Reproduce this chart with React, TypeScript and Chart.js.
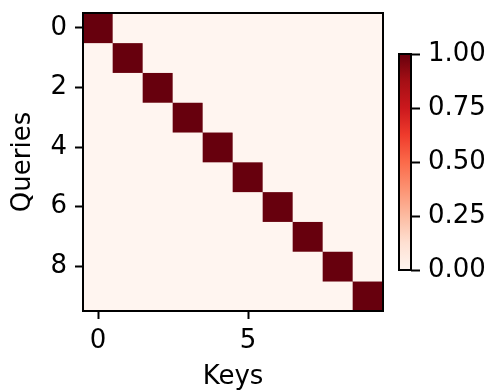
import React, { useEffect, useRef } from 'react';
import { Chart, registerables } from 'chart.js';

Chart.register(...registerables);

// ---- data ----
const keyIndices = [0, 1, 2, 3, 4, 5, 6, 7, 8, 9];
const queryIndices = [0, 1, 2, 3, 4, 5, 6, 7, 8, 9];
const row0 = [1, 0, 0, 0, 0, 0, 0, 0, 0, 0];
const row1 = [0, 1, 0, 0, 0, 0, 0, 0, 0, 0];
const row2 = [0, 0, 1, 0, 0, 0, 0, 0, 0, 0];
const row3 = [0, 0, 0, 1, 0, 0, 0, 0, 0, 0];
const row4 = [0, 0, 0, 0, 1, 0, 0, 0, 0, 0];
const row5 = [0, 0, 0, 0, 0, 1, 0, 0, 0, 0];
const row6 = [0, 0, 0, 0, 0, 0, 1, 0, 0, 0];
const row7 = [0, 0, 0, 0, 0, 0, 0, 1, 0, 0];
const row8 = [0, 0, 0, 0, 0, 0, 0, 0, 1, 0];
const row9 = [0, 0, 0, 0, 0, 0, 0, 0, 0, 1];
const attentionWeights = [row0, row1, row2, row3, row4, row5, row6, row7, row8, row9];
const xTickValues = [0, 5];
const yTickValues = [0, 2, 4, 6, 8];
const colorbarTickValues = [0, 0.25, 0.5, 0.75, 1];
const colorbarMin = 0;
const colorbarMax = 1;
const xTitle = 'Keys';
const yTitle = 'Queries';

// ---- style ----
const REDS = ['#fff5f0', '#fee0d2', '#fcbba1', '#fc9272', '#fb6a4a', '#ef3b2c', '#cb181d', '#a50f15', '#67000d'];
const FONT = { family: "'DejaVu Sans', sans-serif", size: 26 };
const TITLE_FONT = { family: "'DejaVu Sans', sans-serif", size: 26, lineHeight: 1 };

function hexToRgb(h: string): number[] {
  const v = parseInt(h.slice(1), 16);
  return [(v >> 16) & 255, (v >> 8) & 255, v & 255];
}

function reds(value: number): string {
  const t = Math.max(0, Math.min(1, (value - colorbarMin) / (colorbarMax - colorbarMin)));
  const pos = t * (REDS.length - 1);
  const i = Math.min(Math.floor(pos), REDS.length - 2);
  const f = pos - i;
  const a = hexToRgb(REDS[i]);
  const b = hexToRgb(REDS[i + 1]);
  const c = a.map((av, k) => Math.round(av + (b[k] - av) * f));
  return `rgb(${c[0]},${c[1]},${c[2]})`;
}

const outlinePlugin = {
  id: 'outline',
  afterDatasetsDraw(chart: any) {
    const { ctx, chartArea: a } = chart;
    ctx.save();
    ctx.strokeStyle = '#000';
    ctx.lineWidth = 2;
    ctx.strokeRect(a.left, a.top, a.right - a.left, a.bottom - a.top);
    ctx.restore();
  },
};

function zeroPad(s: any) {
  s.paddingTop = 0;
  s.paddingBottom = 0;
  s.paddingLeft = 0;
  s.paddingRight = 0;
}

export default function App() {
  const mainRef = useRef<HTMLCanvasElement>(null);
  const cbarRef = useRef<HTMLCanvasElement>(null);

  useEffect(() => {
    const datasets = queryIndices.map((q) => ({
      label: `Query ${q}`,
      data: keyIndices.map((k) => ({ x: k, y: [q - 0.5, q + 0.5] })),
      backgroundColor: keyIndices.map((k) => reds(attentionWeights[q][k])),
      borderWidth: 0,
      grouped: false,
      barPercentage: 1,
      categoryPercentage: 1,
    }));

    const main = new Chart(mainRef.current as HTMLCanvasElement, {
      type: 'bar',
      data: { datasets: datasets as any },
      plugins: [outlinePlugin],
      options: {
        animation: false,
        responsive: false,
        events: [],
        layout: { padding: { left: 0, top: 13, right: 12, bottom: 0 } },
        plugins: { legend: { display: false }, tooltip: { enabled: false } },
        scales: {
          x: {
            type: 'linear',
            min: -0.5,
            max: 9.5,
            offset: false,
            afterBuildTicks: (s: any) => {
              s.ticks = xTickValues.map((v) => ({ value: v }));
            },
            afterFit: (s: any) => {
              s.height = 79;
              zeroPad(s);
            },
            ticks: {
              font: FONT,
              color: '#000',
              padding: 7,
              autoSkip: false,
              maxRotation: 0,
              callback: (v: any) => String(v),
            },
            grid: { offset: false, drawOnChartArea: false, drawTicks: true, tickLength: 8, tickWidth: 2, tickColor: '#000' },
            border: { display: false },
            title: { display: true, text: xTitle, font: TITLE_FONT, color: '#000', padding: { top: 0, bottom: 0 } },
          },
          y: {
            type: 'linear',
            min: -0.5,
            max: 9.5,
            reverse: true,
            afterBuildTicks: (s: any) => {
              s.ticks = yTickValues.map((v) => ({ value: v }));
            },
            afterFit: (s: any) => {
              s.width = 83;
              zeroPad(s);
            },
            ticks: {
              font: FONT,
              color: '#000',
              padding: 8,
              autoSkip: false,
              callback: (v: any) => String(v),
            },
            grid: { drawOnChartArea: false, drawTicks: true, tickLength: 8, tickWidth: 2, tickColor: '#000' },
            border: { display: false },
            title: { display: true, text: yTitle, font: TITLE_FONT, color: '#000', padding: { top: 10, bottom: 0 } },
          },
        },
      } as any,
    });

    const cbar = new Chart(cbarRef.current as HTMLCanvasElement, {
      type: 'bar',
      data: {
        labels: [''],
        datasets: [
          {
            data: [[colorbarMin, colorbarMax]] as any,
            borderWidth: 0,
            barPercentage: 1,
            categoryPercentage: 1,
            backgroundColor: (ctx: any) => {
              const chart = ctx.chart;
              const y = chart.scales.y;
              if (!chart.chartArea || !y) return REDS[0];
              const g = chart.ctx.createLinearGradient(0, y.getPixelForValue(colorbarMin), 0, y.getPixelForValue(colorbarMax));
              REDS.forEach((c, i) => g.addColorStop(i / (REDS.length - 1), c));
              return g;
            },
          },
        ],
      },
      plugins: [outlinePlugin],
      options: {
        animation: false,
        responsive: false,
        events: [],
        layout: { padding: { left: 4, top: 54, right: 0, bottom: 120 } },
        plugins: { legend: { display: false }, tooltip: { enabled: false } },
        scales: {
          x: { display: false },
          y: {
            type: 'linear',
            position: 'right',
            min: colorbarMin,
            max: colorbarMax,
            afterBuildTicks: (s: any) => {
              s.ticks = colorbarTickValues.map((v) => ({ value: v }));
            },
            afterFit: (s: any) => {
              s.width = 80;
              zeroPad(s);
            },
            ticks: {
              font: FONT,
              color: '#000',
              padding: 8,
              autoSkip: false,
              callback: (v: any) => Number(v).toFixed(2),
            },
            grid: { drawOnChartArea: false, drawTicks: true, tickLength: 9, tickWidth: 2, tickColor: '#000' },
            border: { display: false },
          },
        },
      } as any,
    });

    return () => {
      main.destroy();
      cbar.destroy();
    };
  }, []);

  return (
    <div style={{ position: 'absolute', left: 0, top: 0, width: 491, height: 390, background: '#fff' }}>
      <canvas ref={mainRef} width={395} height={390} style={{ position: 'absolute', left: 0, top: 0, display: 'block' }} />
      <canvas ref={cbarRef} width={96} height={390} style={{ position: 'absolute', left: 395, top: 0, display: 'block' }} />
    </div>
  );
}
